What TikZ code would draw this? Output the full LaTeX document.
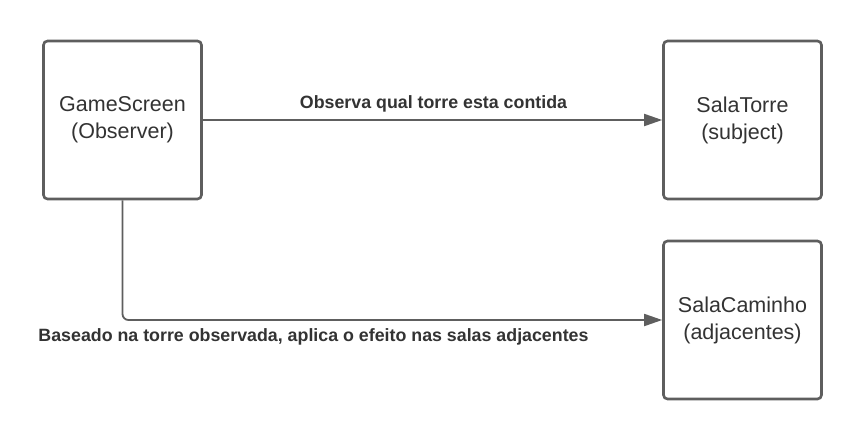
\documentclass[tikz,border=0pt]{standalone}
\usepackage{fontspec}
\setmainfont{Liberation Sans}
\usetikzlibrary{arrows.meta}
\definecolor{strokec}{HTML}{5E5E5E}
\definecolor{textc}{HTML}{333333}
\begin{document}
\begin{tikzpicture}[x=1pt,y=-1pt,
  box/.style={draw=strokec,line width=2.6pt,rounded corners=4pt,minimum width=158pt,minimum height=158pt,
    align=center,text=textc,font=\fontsize{21.5}{27}\selectfont,inner sep=0pt},
  conn/.style={draw=strokec,line width=1.8pt,-{Triangle[length=18pt,width=12pt]},rounded corners=6pt},
  lbl/.style={text=textc,font=\bfseries\fontsize{17.8}{20}\selectfont,inner sep=0pt}]
\useasboundingbox[fill=white] (0,0) rectangle (863,440);
\node[box] (gs) at (122.5,120) {GameScreen\\(Observer)};
\node[box] (st) at (742.5,120) {SalaTorre\\(subject)};
\node[box] (sc) at (742.5,320) {SalaCaminho\\(adjacentes)};
\draw[conn] (gs.east) -- (st.west);
\draw[conn] (gs.south) |- (sc.west);
\node[lbl] (l1) at (433.5,103.5) {Observa qual torre esta contida};
\node[lbl] (l2) at (313.5,337) {Baseado na torre observada, aplica o efeito nas salas adjacentes};
\end{tikzpicture}
\end{document}
